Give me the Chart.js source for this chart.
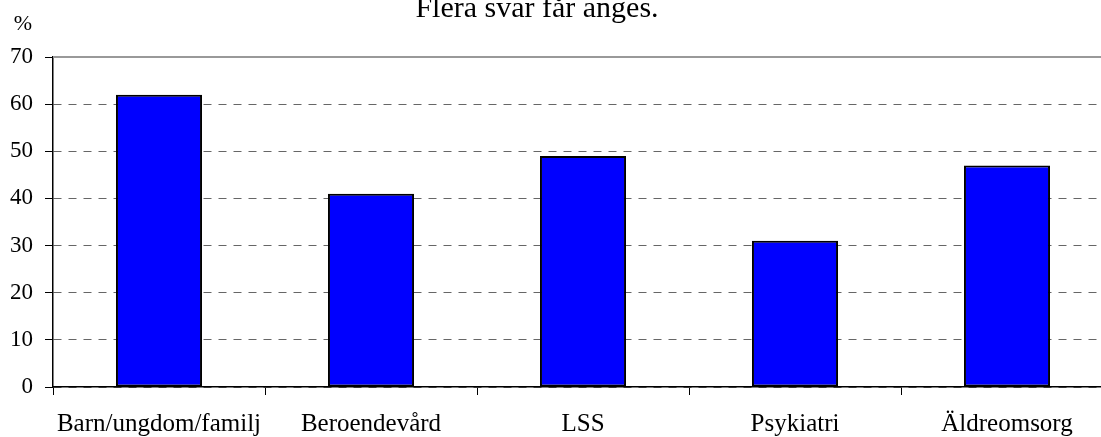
<!DOCTYPE html>
<html>
<head>
<meta charset="utf-8">
<script src="https://cdn.jsdelivr.net/npm/chart.js"></script>
<style>
  html, body { margin: 0; padding: 0; background: #fff; overflow: hidden; }
  #wrap { width: 1101px; height: 437px; overflow: hidden; }
</style>
</head>
<body>
<div id="wrap"><canvas id="chart" width="1113" height="437"></canvas></div>
<script>
// Data
const categories = ["Barn/ungdom/familj", "Beroendevård", "LSS", "Psykiatri", "Äldreomsorg"];
const values = [62, 41, 49, 31, 47];
const yTicks = [0, 10, 20, 30, 40, 50, 60, 70];

const FONT = "'Liberation Serif', 'Times New Roman', serif";

// title, % label and solid top gridline
const extras = {
  id: "extras",
  beforeDatasetsDraw(chart) {
    const { ctx, chartArea, scales } = chart;
    const yTop = scales.y.getPixelForValue(yTicks[yTicks.length - 1]);
    ctx.save();
    ctx.strokeStyle = "#999999";
    ctx.lineWidth = 2;
    ctx.beginPath();
    ctx.moveTo(chartArea.left, yTop);
    ctx.lineTo(chartArea.right, yTop);
    ctx.stroke();
    ctx.restore();
  },
  afterDraw(chart) {
    const { ctx } = chart;
    ctx.save();
    ctx.fillStyle = "#000";
    ctx.textAlign = "center";
    ctx.textBaseline = "alphabetic";
    ctx.font = "30px " + FONT;
    ctx.fillText("Flera svar får anges.", 537, 17);
    ctx.font = "22px " + FONT;
    ctx.fillText("%", 23, 30);
    ctx.restore();
  }
};

const ctx = document.getElementById("chart").getContext("2d");
new Chart(ctx, {
  type: "bar",
  data: {
    labels: categories,
    datasets: [
      {
        data: values,
        backgroundColor: "#0000ff",
        borderColor: "#000000",
        borderWidth: 2,
        borderSkipped: false,
        barPercentage: 1,
        categoryPercentage: 0.406,
      },
    ],
  },
  options: {
    responsive: false,
    animation: false,
    devicePixelRatio: 1,
    layout: { padding: { top: 57, right: 0, bottom: 0, left: 0 } },
    plugins: {
      legend: { display: false },
      tooltip: { enabled: false },
    },
    scales: {
      x: {
        grid: {
          display: true,
          drawOnChartArea: false,
          offset: true,
          color: "#000",
          tickLength: 8,
        },
        border: { color: "#000", width: 1.5 },
        ticks: {
          color: "#000",
          padding: 14,
          font: { family: FONT, size: 25 },
          maxRotation: 0,
        },
        afterFit(scale) { scale.height = 50; },
      },
      y: {
        min: 0,
        max: 70,
        afterBuildTicks(scale) { scale.ticks = yTicks.map(v => ({ value: v })); },
        grid: {
          color: "#666666",
          lineWidth: 1,
          tickLength: 8,
          tickColor: "#000",
          tickBorderDash: [],
        },
        border: { color: "#000", width: 1.5, dash: [8, 7] },
        ticks: {
          color: "#000",
          padding: 12,
          font: { family: FONT, size: 23 },
        },
        afterFit(scale) { scale.width = 53; },
      },
    },
  },
  plugins: [extras],
});
</script>
</body>
</html>
